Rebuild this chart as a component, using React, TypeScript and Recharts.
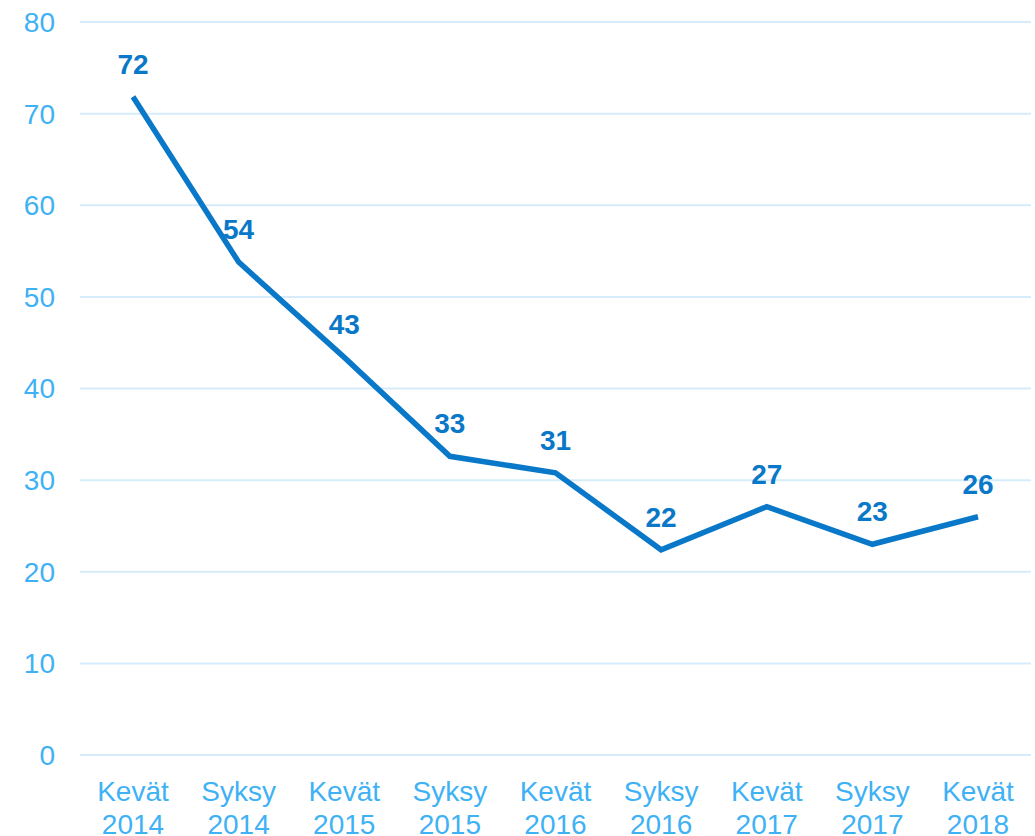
import React from 'react';
import { LineChart, Line, XAxis, YAxis, CartesianGrid, LabelList } from 'recharts';

const seasons = ['Kevät', 'Syksy', 'Kevät', 'Syksy', 'Kevät', 'Syksy', 'Kevät', 'Syksy', 'Kevät'];
const years = ['2014', '2014', '2015', '2015', '2016', '2016', '2017', '2017', '2018'];
const values = [71.85, 53.8, 43.4, 32.6, 30.8, 22.4, 27.1, 23.0, 26.0];
const yTicks = [0, 10, 20, 30, 40, 50, 60, 70, 80];

const data = values.map((v, i) => ({ name: `${seasons[i]} ${years[i]}`, value: v }));

const tickColor = '#3FB1F5';
const lineColor = '#0A78C8';
const font = 'Arial, "Liberation Sans", sans-serif';

const XTick = (props: any) => {
  const { x, y, payload } = props;
  const [s, yr] = String(payload.value).split(' ');
  return (
    <text x={x} y={y} textAnchor="middle" fill={tickColor} fontSize={28} fontFamily={font}>
      <tspan x={x} dy={38}>{s}</tspan>
      <tspan x={x} dy={33}>{yr}</tspan>
    </text>
  );
};

export default function App() {
  return (
    <div style={{ position: 'absolute', left: 0, top: 0, width: 1035, height: 836, background: '#fff' }}>
      <LineChart width={1035} height={836} data={data} margin={{ top: 22, right: 4, left: 0, bottom: 0 }}>
        <CartesianGrid vertical={false} stroke="#D6ECFA" strokeWidth={2} />
        <XAxis
          dataKey="name"
          axisLine={false}
          tickLine={false}
          interval={0}
          height={81}
          padding={{ left: 53, right: 53 }}
          tick={<XTick />}
        />
        <YAxis
          domain={[0, 80]}
          ticks={yTicks}
          axisLine={false}
          tickLine={false}
          width={80}
          tickSize={0}
          tickMargin={25}
          tick={{ fill: tickColor, fontSize: 28, fontFamily: font }}
        />
        <Line
          type="linear"
          dataKey="value"
          stroke={lineColor}
          strokeWidth={5.5}
          dot={false}
          activeDot={false}
          isAnimationActive={false}
        >
          <LabelList
            dataKey="value"
            position="top"
            offset={23}
            formatter={(v: any) => Math.round(Number(v))}
            fill={lineColor}
            fontSize={28}
            fontWeight="bold"
            fontFamily={font}
          />
        </Line>
      </LineChart>
    </div>
  );
}
